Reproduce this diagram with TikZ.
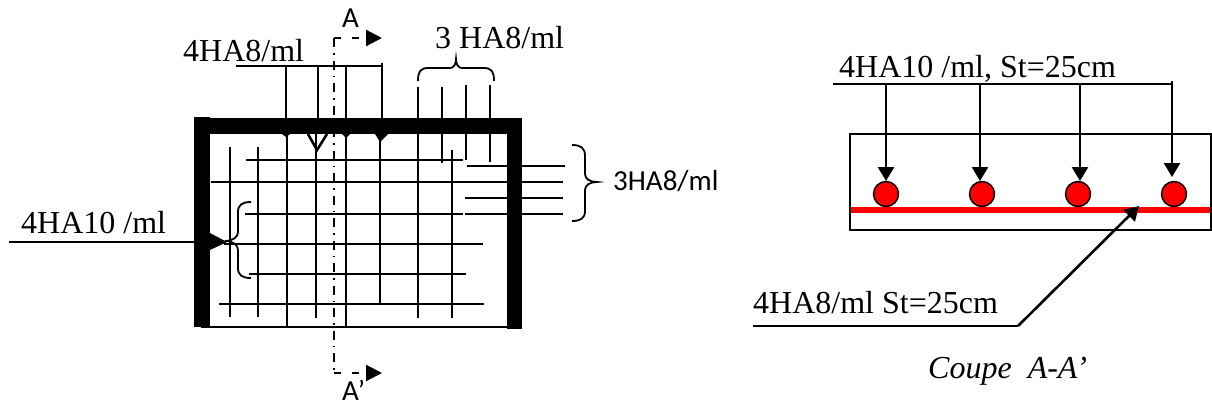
\documentclass[tikz,border=0pt]{standalone}
\usepackage{fontspec}
\setmainfont{Liberation Serif}
\newfontfamily\carlito{Carlito}
\usepackage{xcolor}
\usetikzlibrary{arrows.meta}
\tikzstyle{lab}=[inner sep=0pt,anchor=base west,font=\fontsize{32}{36}\selectfont]
\tikzstyle{sanslab}=[inner sep=0pt,anchor=base west,font=\carlito\fontsize{29}{32}\selectfont]
\tikzstyle{bar}=[line width=2.2pt]
\tikzstyle{wall}=[fill=black,draw=none]
\tikzstyle{rw}=[line width=2.6pt,>/.tip={Triangle[length=14pt,width=16pt]},->]
\tikzstyle{cut}=[line width=2.2pt,dash pattern=on 9pt off 6pt on 1.5pt off 6pt]
\tikzstyle{cutend}=[line width=2.2pt,dash pattern=on 7pt off 11pt]
\tikzstyle{cuthead}=[>/.tip={Triangle[length=16pt,width=16pt]},->]
\tikzstyle{brc}=[line width=1.8pt]
\tikzstyle{ball}=[circle,draw=black,fill=red,line width=1.5pt,minimum size=25pt,inner sep=0pt]
\begin{document}
\begin{tikzpicture}[x=1pt,y=-1pt]
	\useasboundingbox (0,0) rectangle (1212,405);
	% labels
	\node[lab] (top4) at (183,61) {4HA8/ml};
	\node[lab] (top3) at (435,48) {3 HA8/ml};
	\node[lab] (left4) at (21,233) {4HA10 /ml};
	\node[sanslab] (right3) at (613,190) {3HA8/ml};
	\node[sanslab] (cutA) at (342,27) {A};
	\node[sanslab] (cutB) at (342,400) {A’};
	\node[lab] (sec4) at (839,77) {4HA10 /ml, St=25cm};
	\node[lab] (sec8) at (753,313) {4HA8/ml St=25cm};
	\node[lab,font=\itshape\fontsize{32}{36}\selectfont] (title) at (928,378) {Coupe\ \ A-A’};
	% mesh, vertical bars
	\draw[bar] (230,147) -- (230,317);
	\draw[bar] (258,147) -- (258,317);
	\draw[bar] (287,134) -- (287,327);
	\draw[bar] (316,134) -- (316,318);
	\draw[bar] (346,134) -- (346,327);
	\draw[bar] (380,134) -- (380,305);
	\draw[bar] (418,87) -- (418,318);
	\draw[bar] (442,87) -- (442,163);
	\draw[bar] (452,150) -- (452,318);
	\draw[bar] (466,85) -- (466,160);
	\draw[bar] (490,85) -- (490,162);
	% mesh, horizontal bars
	\draw[bar] (246,160) -- (463,160);
	\draw[bar] (467,166) -- (565,166);
	\draw[bar] (211,182) -- (563,182);
	\draw[bar] (465,198) -- (563,198);
	\draw[bar] (245,214) -- (463,214);
	\draw[bar] (465,214) -- (563,214);
	\draw[bar] (224,244) -- (483,244);
	\draw[bar] (249,274) -- (466,274);
	\draw[bar] (219,304) -- (484,304);
	\draw[bar] (201,327) -- (510,327);
	% slab edges
	\fill[wall] (194,118) rectangle (522,134);
	\fill[wall] (194,117) rectangle (210,327);
	\fill[wall] (507,118) rectangle (522,329);
	% top leader
	\coordinate (t0) at (236,66);
	\coordinate (t1) at (286,66);
	\coordinate (t2) at (318,66);
	\coordinate (t3) at (346,66);
	\coordinate (t4) at (382,63);
	\draw[bar] (t0) -- (382,66);
	\draw[bar] (t1) -- (286,118);
	\draw[bar] (t2) -- (318,118);
	\draw[bar] (t3) -- (346,118);
	\draw[bar] (t4) -- (382,118);
	\fill (282,134) -- (290,134) -- (286,137) -- cycle;
	\fill (342,134) -- (350,134) -- (346,138) -- cycle;
	\fill (375,134) -- (388,134) -- (380,142) -- cycle;
	\draw[line width=2.6pt] (308,134) -- (317,150) -- (327,134);
	% left leader
	\coordinate (l0) at (9,242);
	\draw[bar] (l0) -- (194,242);
	\fill (210,233) -- (227,242) -- (210,250) -- cycle;
	% braces
	\draw[brc] (418,81) .. controls (418,72) and (420,68) .. (428,68) -- (450,68) .. controls (454,68) and (456,64) .. (456,59)
		.. controls (456,64) and (458,68) .. (462,68) -- (484,68) .. controls (492,68) and (494,72) .. (494,81);
	\draw[brc] (572,145) .. controls (581,145) and (585,148) .. (585,156) -- (585,174) .. controls (585,179) and (590,182) .. (597,182)
		.. controls (590,182) and (585,185) .. (585,190) -- (585,211) .. controls (585,218) and (581,221) .. (572,221);
	\draw[brc] (251,202) .. controls (242,202) and (238,205) .. (238,212) -- (238,232) .. controls (238,237) and (233,241) .. (225,241)
		.. controls (233,241) and (238,245) .. (238,250) -- (238,268) .. controls (238,275) and (242,278) .. (251,278);
	% section line
	\coordinate (c0) at (334,38);
	\coordinate (c1) at (334,373);
	\draw[cut] (c0) -- (c1);
	\draw[cutend,cuthead] (c0) -- (382,38);
	\draw[cutend,cuthead] (c1) -- (382,373);
	% section
	\draw[line width=1.8pt] (850,134) rectangle (1211,230);
	\draw[red,line width=6pt] (851,210) -- (1210,210);
	\node[ball] (b1) at (886,194) {};
	\node[ball] (b2) at (982,194) {};
	\node[ball] (b3) at (1078,194) {};
	\node[ball] (b4) at (1174,194) {};
	\coordinate (s0) at (833,84);
	\coordinate (s1) at (886,84);
	\coordinate (s2) at (980,84);
	\coordinate (s3) at (1080,84);
	\coordinate (s4) at (1172,81);
	\draw[bar] (s0) -- (1172,84);
	\draw[rw] (s1) -- (886,181);
	\draw[rw] (s2) -- (980,181);
	\draw[rw] (s3) -- (1080,181);
	\draw[rw] (s4) -- (1172,177);
	\coordinate (r0) at (753,326);
	\coordinate (r1) at (1018,326);
	\coordinate (r2) at (1139,206);
	\draw[bar] (r0) -- (r1);
	\draw[rw] (r1) -- (r2);
\end{tikzpicture}
\end{document}
